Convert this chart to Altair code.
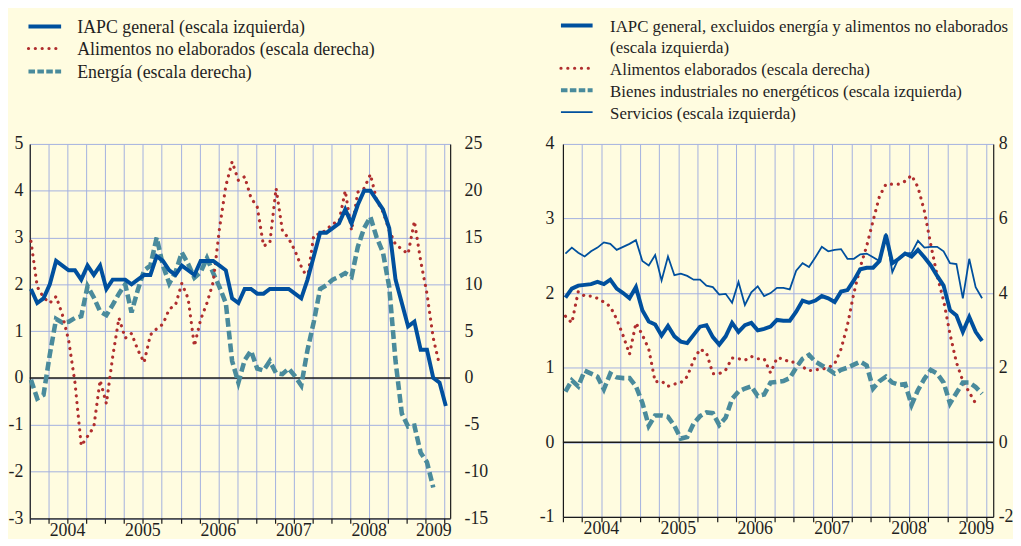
import altair as alt
import pandas as pd

# ---------------- data (monthly, index 0 = enero 2004) ----------------
# Panel izquierdo
iapc_general = [1.9, 1.6, 1.7, 2.0, 2.5, 2.4, 2.3, 2.3, 2.1, 2.4, 2.2, 2.4,
                1.9, 2.1, 2.1, 2.1, 2.0, 2.1, 2.2, 2.2, 2.6, 2.5, 2.3, 2.2,
                2.4, 2.3, 2.2, 2.5, 2.5, 2.5, 2.4, 2.3, 1.7, 1.6, 1.9, 1.9,
                1.8, 1.8, 1.9, 1.9, 1.9, 1.9, 1.8, 1.7, 2.1, 2.6, 3.1, 3.1,
                3.2, 3.3, 3.6, 3.3, 3.7, 4.0, 4.0, 3.8, 3.6, 3.2, 2.1, 1.6,
                1.1, 1.2, 0.6, 0.6, 0.0, -0.1, -0.6]
# read against the left-hand grid
alimentos_no_elaborados = [2.92, 1.95, 1.72, 1.6, 1.74, 1.35, 0.8, -0.1, -1.45, -1.25, -1.05, -0.05,
                           -0.55, 0.45, 1.28, 0.85, 0.95, 0.6, 0.33, 0.92, 1.05, 1.15, 1.47, 1.56,
                           2.02, 1.7, 0.68, 1.25, 1.6, 2.05, 3.2, 4.1, 4.62, 4.22, 4.3, 3.85,
                           3.65, 2.82, 2.88, 4.05, 3.15, 2.98, 2.72, 2.38, 2.13, 3.05, 3.08, 3.16,
                           3.3, 3.33, 4.0, 3.15, 3.97, 4.05, 4.35, 3.8, 3.55, 3.15, 2.85, 2.75,
                           2.65, 3.35, 2.5, 1.8, 0.85, 0.27]
# right-hand scale
energia = [-0.2, -2.2, -1.8, 2.5, 6.3, 5.9, 6.0, 6.4, 6.6, 9.8, 8.6, 7.1,
           6.7, 7.8, 9.0, 10.0, 7.0, 9.4, 11.5, 12.0, 15.0, 12.0, 10.1, 11.3,
           13.4, 12.2, 10.7, 11.3, 12.8, 11.2, 9.7, 8.0, 1.8, -0.5, 1.9, 2.9,
           1.0, 0.8, 1.8, 0.5, 0.4, 1.0, 0.2, -0.8, 3.0, 6.0, 9.5, 9.9,
           10.5, 10.8, 11.2, 10.8, 14.0, 16.0, 17.2, 15.0, 13.4, 9.7, 1.8, -3.8,
           -5.2, -5.1, -8.0, -9.0, -11.7]

# Panel derecho
iapc_subyacente = [1.94, 2.06, 2.1, 2.11, 2.12, 2.15, 2.12, 2.18, 2.06, 2.0, 1.93, 2.08,
                   1.77, 1.62, 1.58, 1.43, 1.56, 1.42, 1.35, 1.33, 1.44, 1.55, 1.57, 1.41,
                   1.31, 1.42, 1.6, 1.48, 1.57, 1.6, 1.5, 1.52, 1.55, 1.64, 1.63, 1.63,
                   1.75, 1.9, 1.87, 1.9, 1.96, 1.93, 1.88, 2.02, 2.04, 2.17, 2.32, 2.34,
                   2.34, 2.43, 2.78, 2.4, 2.46, 2.53, 2.49, 2.58, 2.48, 2.37, 2.23, 2.1,
                   1.77, 1.7, 1.48, 1.68, 1.48, 1.36]
# right-hand scale
alimentos_elaborados = [3.38, 3.2, 4.04, 3.92, 3.92, 3.86, 3.76, 3.64, 3.3, 2.86, 2.36, 3.2,
                        2.88, 2.5, 1.62, 1.64, 1.5, 1.56, 1.6, 1.76, 2.2, 2.5, 2.4, 1.84,
                        1.84, 1.94, 2.26, 2.24, 2.2, 2.3, 2.24, 2.24, 1.86, 2.26, 2.24, 2.14,
                        2.16, 2.02, 1.92, 1.94, 1.96, 2.0, 2.1, 2.5, 3.14, 4.0, 4.7, 5.26,
                        5.94, 6.6, 6.92, 6.92, 6.92, 7.0, 7.16, 6.84, 6.2, 5.3, 4.46, 3.8,
                        2.9, 2.14, 1.64, 1.34, 1.04]
bienes_industriales = [0.68, 0.83, 0.75, 0.96, 0.92, 0.88, 0.71, 0.92, 0.87, 0.86, 0.86, 0.75,
                       0.53, 0.22, 0.36, 0.36, 0.34, 0.22, 0.05, 0.07, 0.25, 0.35, 0.4, 0.39,
                       0.23, 0.33, 0.58, 0.68, 0.72, 0.75, 0.62, 0.64, 0.8, 0.81, 0.82, 0.86,
                       1.0, 1.12, 1.17, 1.08, 1.03, 0.98, 0.92, 0.97, 1.0, 1.04, 1.08, 1.03,
                       0.72, 0.82, 0.88, 0.8, 0.77, 0.78, 0.5, 0.7, 0.85, 0.97, 0.92, 0.8,
                       0.52, 0.66, 0.8, 0.8, 0.74, 0.65]
servicios = [2.53, 2.61, 2.54, 2.49, 2.56, 2.61, 2.68, 2.66, 2.58, 2.62, 2.66, 2.71,
             2.43, 2.37, 2.51, 2.17, 2.49, 2.24, 2.26, 2.23, 2.18, 2.18, 2.1, 2.08,
             1.98, 1.99, 1.87, 2.15, 1.84, 2.01, 2.09, 1.96, 2.0, 2.07, 2.07, 2.05,
             2.3, 2.4, 2.35, 2.48, 2.62, 2.56, 2.58, 2.59, 2.46, 2.46, 2.52, 2.53,
             2.48, 2.43, 2.8, 2.28, 2.47, 2.53, 2.54, 2.7, 2.61, 2.62, 2.62, 2.56,
             2.4, 2.39, 1.93, 2.46, 2.08, 1.93]

years = ["2004", "2005", "2006", "2007", "2008", "2009"]

left_ticks_L = [-3, -2, -1, 0, 1, 2, 3, 4, 5]
right_ticks_L = [-15, -10, -5, 0, 5, 10, 15, 20, 25]
left_ticks_R = [-1, 0, 1, 2, 3, 4]
right_ticks_R = [-2, 0, 2, 4, 6, 8]

legend_left = ["IAPC general (escala izquierda)",
               "Alimentos no elaborados (escala derecha)",
               "Energía (escala derecha)"]
legend_right = ["IAPC general, excluidos energía y alimentos no elaborados",
                "(escala izquierda)",
                "Alimentos elaborados (escala derecha)",
                "Bienes industriales no energéticos (escala izquierda)",
                "Servicios (escala izquierda)"]

# ---------------- style ----------------
FONT = "Liberation Serif"
FS = 18
BG = "#FFFCE0"
GRID = "#A3B0E0"
AX = "#1a1a1a"
TXT = "#1f1f1f"
BLUE = "#00509E"
RED = "#B02E2E"
TEAL = "#4A8B9C"
YEAR_OFF = 17.5

STYLES = {
    "thick": {"color": BLUE, "strokeWidth": 4.0},
    "thin": {"color": BLUE, "strokeWidth": 1.8},
    "dot": {"color": RED, "strokeWidth": 3.2, "strokeDash": [0.1, 6.8], "strokeCap": "round"},
    "dash": {"color": TEAL, "strokeWidth": 4.6, "strokeDash": [9, 4]},
}
LEG_STYLES = dict(STYLES)
LEG_STYLES["dash"] = {"color": TEAL, "strokeWidth": 4.0, "strokeDash": [6.6, 2.4]}


def sdf(values):
    return pd.DataFrame({"t": list(range(len(values))), "v": values})


def panel(W, H, xdom, ydomL, yvalsL, ydomR, yvalsR, series, legend,
          sym_y, txt_y, sym_x, txt_x, padL, padR, y2009, leg_fs):
    xs = alt.Scale(domain=xdom, nice=False, zero=False)
    ysL = alt.Scale(domain=ydomL, nice=False, zero=False)
    ysR = alt.Scale(domain=ydomR, nice=False, zero=False)
    ticks = [round(xdom[0] + 3 * i, 3) for i in range(23)]
    x_axis = alt.Axis(values=ticks, labels=False, ticks=True, tickSize=5, tickColor=AX,
                      tickWidth=1.2, domain=True, domainColor=AX, domainWidth=1.2,
                      grid=True, gridColor=GRID, gridWidth=1, title=None)
    yL_axis = alt.Axis(orient="left", values=yvalsL, labelExpr="datum.value",
                       labelPadding=padL, ticks=False, domain=True, domainColor=AX,
                       domainWidth=1.2, grid=True, gridColor=GRID, gridWidth=1, title=None)
    yR_axis = alt.Axis(orient="right", values=yvalsR, labelExpr="datum.value",
                       labelPadding=padR, ticks=False, domain=True, domainColor=AX,
                       domainWidth=1.2, grid=False, title=None)

    layers = [alt.Chart(pd.DataFrame({"v": [0]})).mark_rule(color=AX, strokeWidth=1.6).encode(
        y=alt.Y("v:Q", scale=ysL, axis=yL_axis))]
    r_done = False
    for values, side, style in series:
        if side == "R":
            sc = ysR
            ax = None if r_done else yR_axis
            r_done = True
        else:
            sc = ysL
            ax = None
        layers.append(alt.Chart(sdf(values)).mark_line(**STYLES[style]).encode(
            x=alt.X("t:Q", scale=xs, axis=x_axis),
            y=alt.Y("v:Q", scale=sc, axis=ax)))

    # year labels under the axis
    year_pos = [xdom[0] + 6 + 12 * i for i in range(len(years) - 1)] + [y2009]
    ydf = pd.DataFrame({"t": year_pos, "year": years})
    layers.append(alt.Chart(ydf).mark_text(font=FONT, fontSize=FS, color=TXT,
                                           baseline="alphabetic", align="center").encode(
        x=alt.X("t:Q", scale=xs, axis=x_axis), y=alt.value(H + YEAR_OFF), text="year:N"))

    # legend
    one = pd.DataFrame({"k": [0]})
    for (label, style), sy, ty in zip(legend, sym_y, txt_y):
        if style is not None:
            layers.append(alt.Chart(one).mark_rule(**LEG_STYLES[style]).encode(
                x=alt.value(sym_x[0]), x2=alt.value(sym_x[1]), y=alt.value(sy)))
        layers.append(alt.Chart(one).mark_text(text=label, font=FONT, fontSize=leg_fs, color=TXT,
                                               align="left", baseline="alphabetic").encode(
            x=alt.value(txt_x), y=alt.value(ty)))

    return alt.layer(*layers).resolve_scale(y="independent").properties(width=W, height=H)


left = panel(
    425, 378.5, [-0.19, 66.69], [-3, 5], left_ticks_L, [-15, 25], right_ticks_L,
    [(energia, "R", "dash"), (alimentos_no_elaborados, "L", "dot"), (iapc_general, "L", "thick")],
    list(zip(legend_left, ["thick", "dot", "dash"])),
    [-118.8, -96.5, -73.2], [-112.2, -89.8, -66.5], (-1.3, 31.7), 48.0, 7, 14, 64.1, 18)

right = panel(
    435, 377, [-0.39, 66.74], [-1, 4], left_ticks_R, [-2, 8], right_ticks_R,
    [(alimentos_elaborados, "R", "dot"), (bienes_industriales, "L", "dash"),
     (servicios, "L", "thin"), (iapc_subyacente, "L", "thick")],
    list(zip(legend_right, ["thick", None, "dot", "dash", "thin"])),
    [-119.8, -98.2, -76.5, -54.2, -32.2], [-113.2, -91.6, -69.9, -47.6, -25.6],
    (-2.0, 30.0), 47.7, 9, 5, 64.1, 17)

chart = alt.hconcat(left, right, spacing=52, background=BG,
                    padding={"left": 0, "top": 6.5, "right": 0, "bottom": -4}).configure_view(
    stroke=None).configure_axis(labelFont=FONT, labelFontSize=FS, labelColor=TXT)

chart.save("out.html", embed_options={"renderer": "svg", "actions": False})
